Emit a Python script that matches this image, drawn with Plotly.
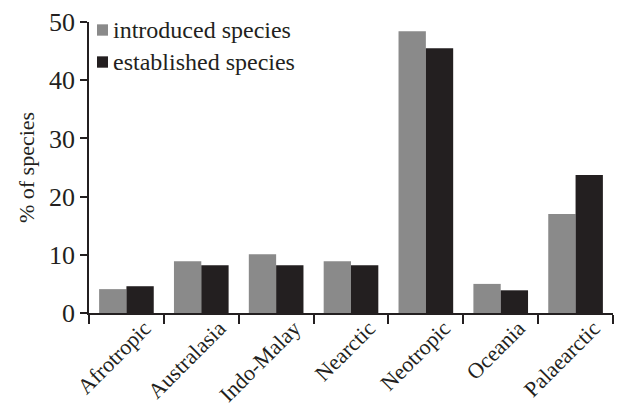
import plotly.graph_objects as go

categories = ["Afrotropic", "Australasia", "Indo-Malay", "Nearctic", "Neotropic", "Oceania", "Palaearctic"]
introduced = [4.1, 8.9, 10.1, 8.9, 48.4, 5.0, 17.0]
established = [4.6, 8.2, 8.2, 8.2, 45.5, 3.9, 23.7]
y_ticks = [0, 10, 20, 30, 40, 50]
series_names = ["introduced species", "established species"]
series_colors = ["#8a8a8a", "#231f20"]

font_family = "Liberation Serif, Times New Roman, serif"

fig = go.Figure()
for name, vals, col in zip(series_names, [introduced, established], series_colors):
    fig.add_trace(go.Bar(x=categories, y=vals, name=name,
                         marker=dict(color=col, line=dict(width=0))))

# manual legend (swatch + label) in the top-left corner of the plot area
legend_y = [0.9725, 0.8625]
for name, col, yc in zip(series_names, series_colors, legend_y):
    fig.add_shape(type="rect", xref="paper", yref="paper",
                  x0=0.0153, x1=0.0363, y0=yc - 0.0195, y1=yc + 0.0195,
                  fillcolor=col, line=dict(width=0))
    fig.add_annotation(text=name, xref="paper", yref="paper", x=0.0420, y=yc,
                       xanchor="left", yanchor="middle", showarrow=False,
                       font=dict(size=24, family=font_family, color="#231f20"))

fig.update_layout(
    width=614, height=399,
    margin=dict(l=81, r=9, t=14, b=94, autoexpand=False),
    paper_bgcolor="white", plot_bgcolor="white",
    barmode="group", bargap=0.27, bargroupgap=0,
    font=dict(family=font_family, size=22, color="#231f20"),
    showlegend=False,
)
fig.update_xaxes(
    type="category", tickangle=-45, tickson="boundaries",
    ticks="outside", ticklen=9, tickcolor="#231f20", tickwidth=1.5,
    showline=True, linecolor="#231f20", linewidth=1.5,
    showgrid=False, tickfont=dict(size=22), automargin=False,
    ticklabelshift=18, ticklabelstandoff=-8,
)
fig.update_yaxes(
    range=[0, 50], tickvals=y_ticks, ticks="outside", ticklen=7,
    tickcolor="#231f20", tickwidth=1.5, showline=True, linecolor="#231f20", linewidth=1.5,
    showgrid=False, zeroline=False, tickfont=dict(size=26), automargin=False,
    title=dict(text="% of species", font=dict(size=22, family=font_family), standoff=8),
)

fig.write_html("out.html")
